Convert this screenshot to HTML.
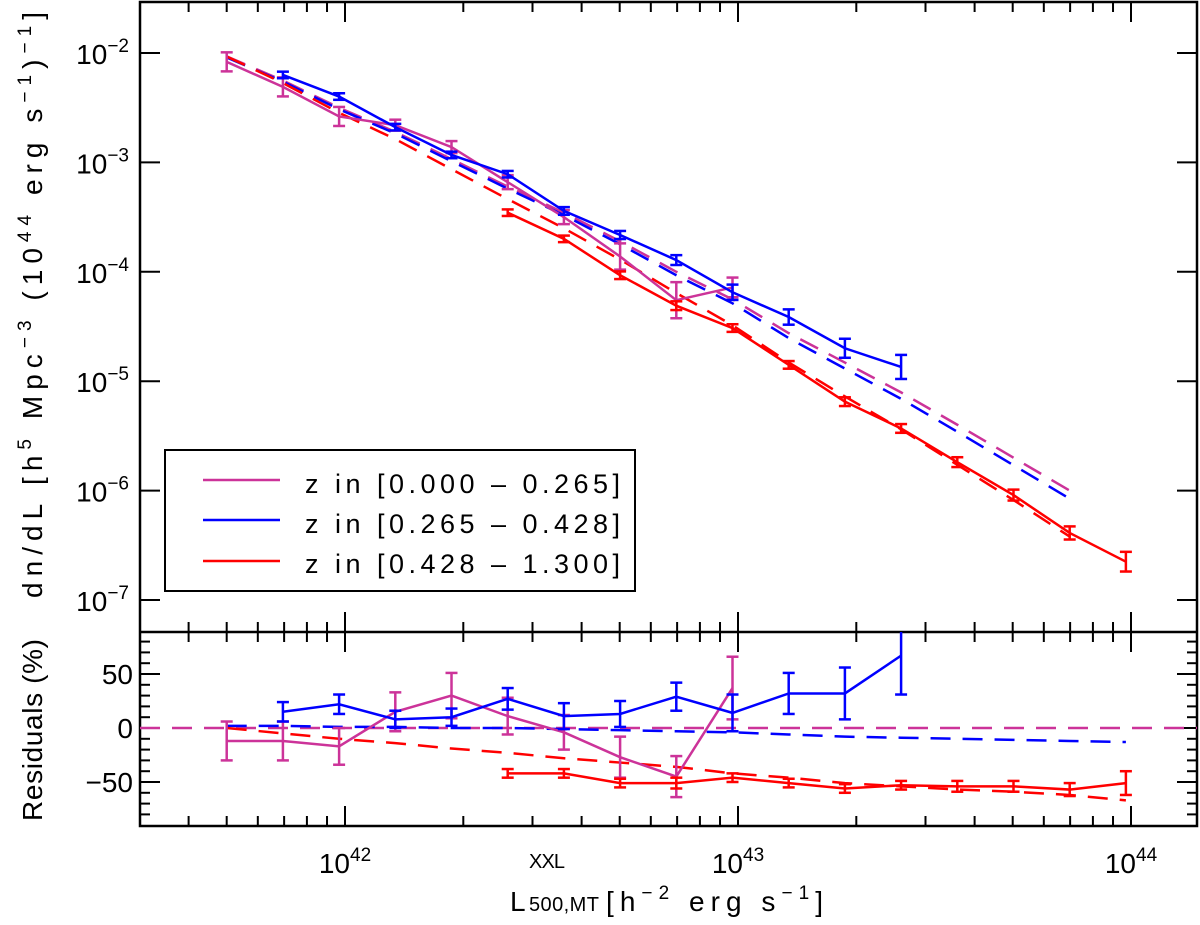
<!DOCTYPE html>
<html><head><meta charset="utf-8"><style>
html,body{margin:0;padding:0;background:#fff;}
svg{display:block;font-family:"Liberation Sans",sans-serif;}
</style></head><body>
<svg id="chart" width="1200" height="925" viewBox="0 0 1200 925" xmlns="http://www.w3.org/2000/svg">
<defs><clipPath id="clipTop"><rect x="140" y="2" width="1057" height="630"/></clipPath>
<clipPath id="clipBot"><rect x="140" y="632" width="1057" height="194"/></clipPath></defs>
<g id="axes"></g>
<g id="marks"></g>
<g id="legend">
<rect x="165" y="450" width="470" height="141" fill="#fff" stroke="#000" stroke-width="2"/>
<line x1="203" y1="480" x2="280" y2="480" stroke="#cc3399" stroke-width="2.5"/>
<line x1="203" y1="520" x2="280" y2="520" stroke="#0000ff" stroke-width="2.5"/>
<line x1="203" y1="561" x2="280" y2="561" stroke="#ff0000" stroke-width="2.5"/>
<text x="305" y="493" font-size="27" textLength="315" lengthAdjust="spacing" xml:space="preserve">z in [0.000 – 0.265]</text>
<text x="305" y="533" font-size="27" textLength="315" lengthAdjust="spacing" xml:space="preserve">z in [0.265 – 0.428]</text>
<text x="305" y="573" font-size="27" textLength="315" lengthAdjust="spacing" xml:space="preserve">z in [0.428 – 1.300]</text>
</g>
<text transform="translate(42,305) rotate(-90)" text-anchor="middle" font-size="28" textLength="586" lengthAdjust="spacing">dn/dL [h<tspan dy="-11" font-size="19">5</tspan><tspan dy="11"> Mpc</tspan><tspan dy="-11" font-size="19">−3</tspan><tspan dy="11"> (10</tspan><tspan dy="-11" font-size="19">44</tspan><tspan dy="11"> erg s</tspan><tspan dy="-11" font-size="19">−1</tspan><tspan dy="11">)</tspan><tspan dy="-11" font-size="19">−1</tspan><tspan dy="11">]</tspan></text>
<text transform="translate(42,730) rotate(-90)" text-anchor="middle" font-size="28" textLength="182" lengthAdjust="spacing">Residuals (%)</text>
<g>
<text x="510" y="911" font-size="28">L</text>
<text x="529" y="868" font-size="20" textLength="36" lengthAdjust="spacing">XXL</text>
<text x="529" y="911" font-size="20" textLength="70" lengthAdjust="spacing">500,MT</text>
<text x="606" y="911" font-size="28" textLength="217" lengthAdjust="spacing">[h<tspan dy="-12" font-size="19">−2</tspan><tspan dy="12" xml:space="preserve"> erg s</tspan><tspan dy="-12" font-size="19">−1</tspan><tspan dy="12">]</tspan></text>
</g>
</svg>
<script>
// ---- data ----
const logLStart = 41.699, logLStep = 0.143;
const magIdx = [0,1,2,3,4,5,6,7,8,9];
const magVal = [8.3e-3,4.9e-3,2.63e-3,2.19e-3,1.38e-3,6.6e-4,3.16e-4,1.38e-4,5.5e-5,7.2e-5];
const magErrDex = [0.087,0.087,0.087,0.05,0.055,0.064,0.064,0.12,0.165,0.09];
const blueIdx = [1,2,3,4,5,6,7,8,9,10,11,12];
const blueVal = [6.3e-3,4.0e-3,2.1e-3,1.17e-3,7.8e-4,3.6e-4,2.17e-4,1.28e-4,6.5e-5,3.86e-5,2.0e-5,1.35e-5];
const blueErrDex = [0.03,0.03,0.03,0.03,0.03,0.035,0.037,0.045,0.07,0.07,0.087,0.11];
const redIdx = [5,6,7,8,9,10,11,12,13,14,15,16];
const redVal = [3.47e-4,2.0e-4,9.3e-5,4.9e-5,3.06e-5,1.41e-5,6.5e-6,3.7e-6,1.82e-6,9.1e-7,4.1e-7,2.24e-7];
const redErrDex = [0.03,0.03,0.035,0.04,0.035,0.035,0.04,0.04,0.045,0.05,0.06,0.09];
const modelVal = [9.3e-3,5.6e-3,3.16e-3,1.9e-3,1.07e-3,6.0e-4,3.47e-4,1.9e-4,1.0e-4,5.6e-5,2.75e-5,1.48e-5,7.9e-6,4.0e-6,2.0e-6,1.0e-6];
const blueModelRes = [2,2,1,1,0,0,-1,-2,-3,-4,-6,-8,-9,-10,-11,-12,-13];
const redModelRes = [0,-5,-10,-14,-19,-23,-28,-32,-36,-42,-46,-51,-54,-57,-59,-62,-67];
const magRes = [-12,-12,-17,15,30,11,-4,-27,-45,37];
const magResErr = [18,18,17,18,21,17,16,19,19,29];
const blueRes = [15,22,8,10,27,11,13,29,14,32,32,67];
const blueResErr = [9,9,8,8,10,12,12,13,17,19,24,36];
const redRes = [-42,-42,-51,-51,-46,-51,-56,-53,-54,-54,-57,-51];
const redResErr = [4,4,4,5,4,4,4,4,5,5,6,11];
const yTickExps = [-2,-3,-4,-5,-6,-7];
const xTickExps = [42,43,44];
const resTicks = [-50,0,50];

// ---- scales ----
const L=140,R=1197,T=2,M=632,B=826;
const xs = lg => 345 + 393*(lg-42);
const xi = i => xs(logLStart + logLStep*i);
const yt = lv => 53 - 109.4*(lv+2);
const yv = v => yt(Math.log10(v));
const yr = r => 728 - 1.08*r;
const NS="http://www.w3.org/2000/svg";
const axes=document.getElementById('axes'), marks=document.getElementById('marks');
function mk(parent,tag,attrs){const e=document.createElementNS(NS,tag);for(const k in attrs)e.setAttribute(k,attrs[k]);parent.appendChild(e);return e;}
const C={mag:'#cc3399',blue:'#0000ff',red:'#ff0000'};

let e;
e=mk(axes,'rect',{x:L,y:T,width:R-L,height:B-T,fill:'none',stroke:'#000','stroke-width':2.5});


e=mk(axes,'line',{x1:L,y1:M,x2:R,y2:M,stroke:'#000','stroke-width':2.5});


for(let d=41;d<=44;d++){for(let m=1;m<=9;m++){const x=xs(d+Math.log10(m));if(x<L+1||x>R-1)continue;const len=m===1?20:10;
 [[T,T+len],[M,M-len],[M,M+len],[B,B-len]].forEach(p=>{e=mk(axes,'line',{x1:x,y1:p[0],x2:x,y2:p[1],stroke:'#000','stroke-width':2});
 
 });}}
xTickExps.forEach(p=>{const t=mk(axes,'text',{x:xs(p),y:873,'text-anchor':'middle','font-size':28});
 
 
 t.innerHTML='10<tspan dy="-12" font-size="19">'+p+'</tspan>';});
yTickExps.forEach(p=>{const y=yt(p);
 [[L,L+20],[R,R-20]].forEach(q=>{e=mk(axes,'line',{x1:q[0],y1:y,x2:q[1],y2:y,stroke:'#000','stroke-width':2});
 
 });
 const t=mk(axes,'text',{x:129,y:y+11,'text-anchor':'end','font-size':28});
 
 
 t.innerHTML='10<tspan dy="-12" font-size="19">−'+(-p)+'</tspan>';});
for(let r=-80;r<=80;r+=10){const y=yr(r);const len=r%50===0?20:10;
 [[L,L+len],[R,R-len]].forEach(q=>{e=mk(axes,'line',{x1:q[0],y1:y,x2:q[1],y2:y,stroke:'#000','stroke-width':2});
 
 });}
resTicks.forEach(r=>{const t=mk(axes,'text',{x:133,y:yr(r)+10,'text-anchor':'end','font-size':28});
 
 
 t.textContent=r<0?'−'+(-r):String(r);});

const gTop=mk(marks,'g',{'clip-path':'url(#clipTop)'});
const gBot=mk(marks,'g',{'clip-path':'url(#clipBot)'});
function poly(g,pts,col,dash,name){const p=mk(g,'polyline',{points:pts.map(a=>a.join(',')).join(' '),fill:'none',stroke:col,'stroke-width':2.5,'stroke-dasharray':dash||'none'});
 
 }
function ebar(g,x,y1,y2,col,name){const gg=mk(g,'g',{stroke:col,'stroke-width':2.5});
 
 
 mk(gg,'line',{x1:x,y1:y1,x2:x,y2:y2});mk(gg,'line',{x1:x-6,y1:y1,x2:x+6,y2:y1});mk(gg,'line',{x1:x-6,y1:y2,x2:x+6,y2:y2});}
const mi=modelVal.map((v,i)=>i);
poly(gTop,mi.map(i=>[xi(i),yv(modelVal[i])]),C.mag,'20,12','model-low-z');
poly(gTop,mi.map(i=>[xi(i),yv(modelVal[i]*(1+blueModelRes[i]/100))+2]),C.blue,'20,12','model-mid-z');
poly(gTop,mi.map(i=>[xi(i),yv(modelVal[i]*(1+redModelRes[i]/100))]),C.red,'20,12','model-high-z');
function series(g,idx,val,err,col,name){poly(g,idx.map((ii,k)=>[xi(ii),yv(val[k])]),col,null,'line-'+name);
 idx.forEach((ii,k)=>{const lv=Math.log10(val[k]);ebar(g,xi(ii),yt(lv+err[k]),yt(lv-err[k]),col,'errorbar-'+name);});}
series(gTop,magIdx,magVal,magErrDex,C.mag,'low-z');
series(gTop,blueIdx,blueVal,blueErrDex,C.blue,'mid-z');
series(gTop,redIdx,redVal,redErrDex,C.red,'high-z');
poly(gBot,[[L,yr(0)],[R,yr(0)]],C.mag,'20,12','residual-zero-line');
const ri=blueModelRes.map((v,i)=>i);
poly(gBot,ri.map(i=>[xi(i),yr(blueModelRes[i])]),C.blue,'20,12','residual-model-mid-z');
poly(gBot,ri.map(i=>[xi(i),yr(redModelRes[i])]),C.red,'20,12','residual-model-high-z');
function rseries(idx,val,err,col,name){poly(gBot,idx.map((ii,k)=>[xi(ii),yr(val[k])]),col,null,'residual-line-'+name);
 idx.forEach((ii,k)=>ebar(gBot,xi(ii),yr(val[k]+err[k]),yr(val[k]-err[k]),col,'residual-errorbar-'+name));}
rseries(magIdx,magRes,magResErr,C.mag,'low-z');
rseries(blueIdx,blueRes,blueResErr,C.blue,'mid-z');
rseries(redIdx,redRes,redResErr,C.red,'high-z');
</script>
</body></html>
